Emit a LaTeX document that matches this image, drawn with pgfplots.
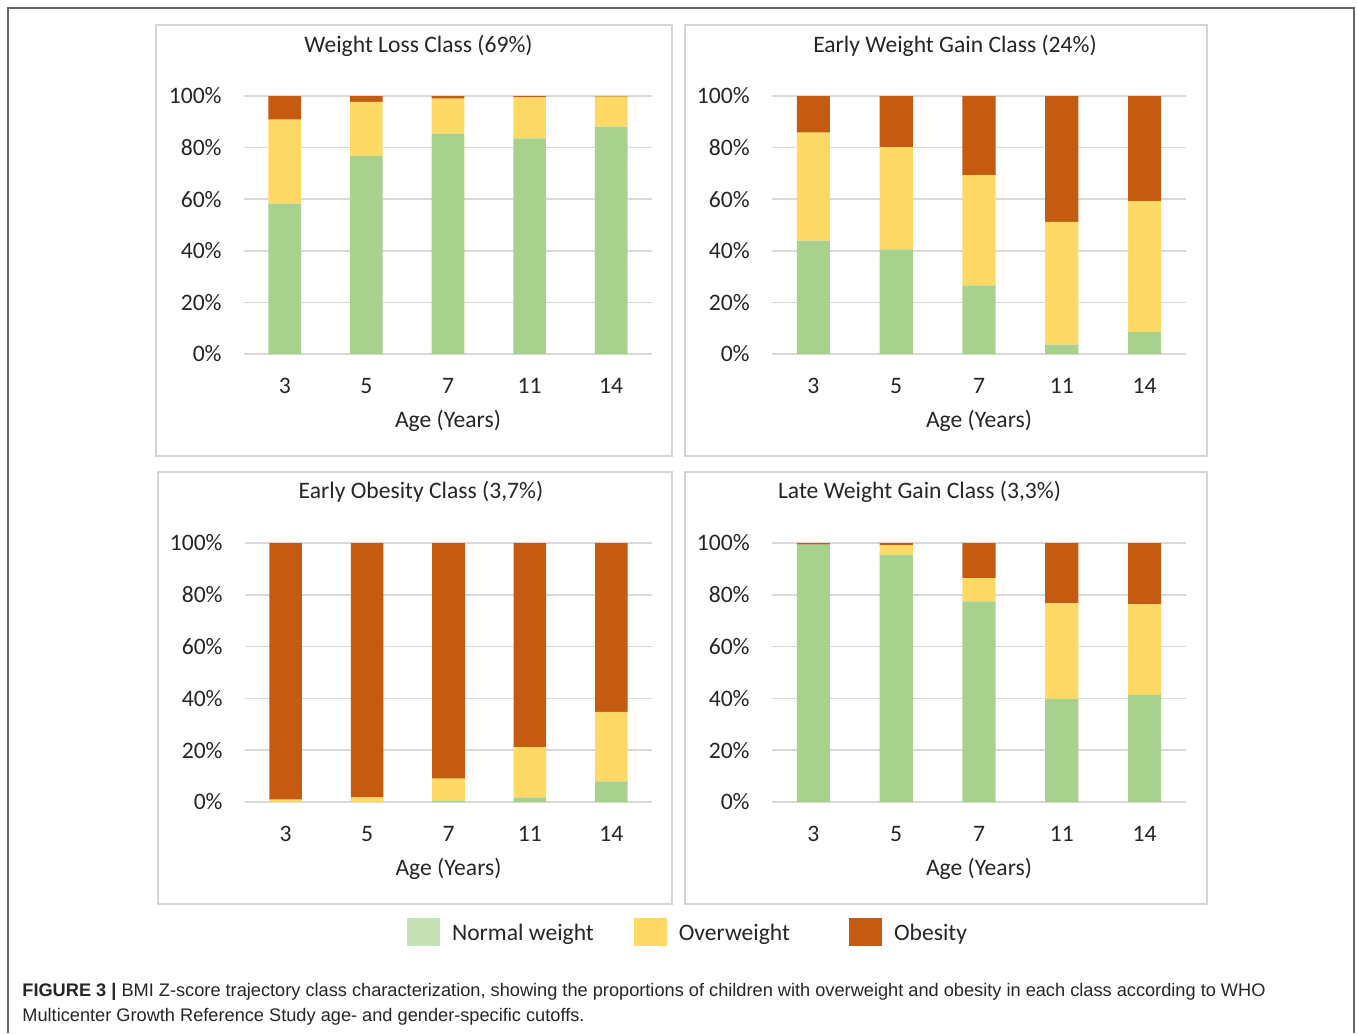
\documentclass[border=0pt]{standalone}
\usepackage{fontspec}
\setmainfont{Carlito}
\newfontfamily\capfont{Liberation Sans}
\usepackage{pgfplots}
\usepackage{pgfplotstable}
\pgfplotsset{compat=1.18}

\definecolor{normalc}{HTML}{A9D18E}
\definecolor{normalleg}{HTML}{C5E0B4}
\definecolor{overc}{HTML}{FFD966}
\definecolor{obesec}{HTML}{C55A11}
\definecolor{gridc}{HTML}{D9D9D9}
\definecolor{boxc}{HTML}{D4D4D4}
\definecolor{framec}{HTML}{666666}
\definecolor{textc}{HTML}{262626}

% x: category index (3,5,7,11,14 years); normal / overweight / obese in %
\pgfplotstableread{
x n o b
0 58.3 32.5 9.2
1 76.7 21.0 2.3
2 85.4 13.6 1.0
3 83.6 15.9 0.5
4 88.1 11.7 0.2
}\lossdata
\pgfplotstableread{
x n o b
0 43.9 41.9 14.2
1 40.6 39.6 19.8
2 26.6 42.7 30.7
3 3.6 47.6 48.8
4 8.5 50.8 40.7
}\earlygaindata
\pgfplotstableread{
x n o b
0 0.0 0.9 99.1
1 0.0 1.8 98.2
2 0.5 8.5 91.0
3 1.8 19.4 78.8
4 8.0 26.8 65.2
}\obesitydata
\pgfplotstableread{
x n o b
0 99.4 0.0 0.6
1 95.5 3.7 0.8
2 77.5 8.9 13.6
3 39.8 36.9 23.3
4 41.4 34.9 23.7
}\lategaindata

\pgfplotsset{
  panel/.style={
    ybar stacked, bar width=0.4,
    scale only axis, anchor=south west,
    xmin=-0.5, xmax=4.5, ymin=0, ymax=100,
    xtick={0,...,4}, xticklabels={3,5,7,11,14},
    ytick={0,20,...,100},
    yticklabel={\pgfmathprintnumber{\tick}\%},
    /pgf/number format/assume math mode=true,
    axis line style={draw=none}, major tick length=0pt,
    ymajorgrids, grid style={gridc, line width=0.75pt},
    tick label style={font=\fontsize{11.8}{13}\selectfont, text=textc},
    yticklabel style={inner sep=0pt, xshift=-11pt},
    xticklabel style={inner sep=0pt, yshift=-12pt},
    xlabel={Age (Years)},
    xlabel style={at={(axis description cs:0.5,0)}, anchor=base,
      yshift=-36.5pt, inner sep=0pt, font=\fontsize{11.8}{13}\selectfont, text=textc},
    every axis plot/.append style={draw=none},
  },
}

\begin{document}
\begin{tikzpicture}
\begin{scope}[x=0.5pt,y=-0.5pt]
\path[use as bounding box, fill=white] (0,0) rectangle (1358,1033);
\draw[framec, line width=0.6pt] (8,1033) -- (8,8) -- (1354,8) -- (1354,1033);
\draw[boxc, line width=0.75pt] (156,25) rectangle (672,456);
\draw[boxc, line width=0.75pt] (685,25) rectangle (1207,456);
\draw[boxc, line width=0.75pt] (158,472) rectangle (672,904);
\draw[boxc, line width=0.75pt] (685,472) rectangle (1207,904);
\begin{scope}[every node/.style={anchor=base, inner sep=0pt, text=textc,
    font=\fontsize{11.8}{13}\selectfont}]
\node at (418.5,52) {Weight Loss Class (69\%)};
\node at (955,52) {Early Weight Gain Class (24\%)};
\node at (421,498) {Early Obesity Class (3,7\%)};
\node at (919.5,498) {Late Weight Gain Class (3,3\%)};
\end{scope}
\begin{scope}[every node/.style={anchor=base west, inner sep=0pt, text=textc,
    font=\capfont\fontsize{9.1}{11}\selectfont}]
\node at (22,996) {\textbf{FIGURE 3 |} BMI Z-score trajectory class characterization, showing the proportions of children with overweight and obesity in each class according to WHO};
\node at (22,1021) {Multicenter Growth Reference Study age- and gender-specific cutoffs.};
\end{scope}
\end{scope}

\begin{axis}[panel, at={(122pt,-177pt)}, width=204pt, height=129pt]
\addplot[fill=normalc] table[x=x, y=n] {\lossdata};
\addplot[fill=overc] table[x=x, y=o] {\lossdata};
\addplot[fill=obesec] table[x=x, y=b] {\lossdata};
\end{axis}

\begin{axis}[panel, at={(386pt,-177pt)}, width=207pt, height=129pt]
\addplot[fill=normalc] table[x=x, y=n] {\earlygaindata};
\addplot[fill=overc] table[x=x, y=o] {\earlygaindata};
\addplot[fill=obesec] table[x=x, y=b] {\earlygaindata};
\end{axis}

\begin{axis}[panel, at={(122.5pt,-401pt)}, width=203.5pt, height=129.5pt]
\addplot[fill=normalc] table[x=x, y=n] {\obesitydata};
\addplot[fill=overc] table[x=x, y=o] {\obesitydata};
\addplot[fill=obesec] table[x=x, y=b] {\obesitydata};
\end{axis}

\begin{axis}[panel, at={(386pt,-401pt)}, width=207pt, height=129.5pt,
  legend columns=3,
  legend image code/.code={\fill[#1] (0pt,-6pt) rectangle (16.5pt,8pt);},
  legend style={at={(-0.8816,-0.5019)}, anchor=west, draw=none, fill=none,
    inner sep=0pt, outer sep=0pt, column sep=0pt,
    nodes={inner sep=0pt, text=textc, font=\fontsize{11.8}{13}\selectfont},
    /tikz/column 1/.style={column sep=6pt},
    /tikz/column 2/.style={column sep=20pt},
    /tikz/column 3/.style={column sep=6pt},
    /tikz/column 4/.style={column sep=29.5pt},
    /tikz/column 5/.style={column sep=6pt}},
  legend cell align=left]
\addplot[fill=normalc, forget plot] table[x=x, y=n] {\lategaindata};
\addplot[fill=overc, forget plot] table[x=x, y=o] {\lategaindata};
\addplot[fill=obesec, forget plot] table[x=x, y=b] {\lategaindata};
\addlegendimage{fill=normalleg, draw=none}
\addlegendentry{Normal weight}
\addlegendimage{fill=overc, draw=none}
\addlegendentry{Overweight}
\addlegendimage{fill=obesec, draw=none}
\addlegendentry{Obesity}
\end{axis}
\end{tikzpicture}
\end{document}
